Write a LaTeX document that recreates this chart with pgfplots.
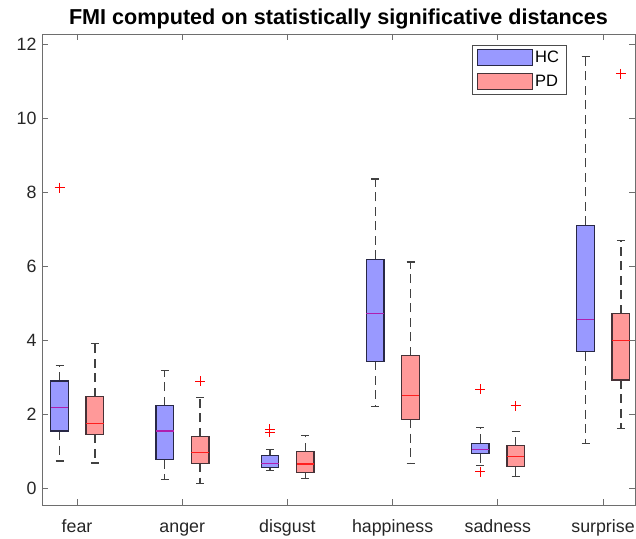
\documentclass[border=0pt]{standalone}
\usepackage{fontspec}
\setmainfont{Liberation Sans}
\usepackage{pgfplots}
\usepgfplotslibrary{statistics}
\pgfplotsset{compat=1.18}
\definecolor{hcfill}{RGB}{153,153,255}
\definecolor{pdfill}{RGB}{255,153,153}
\definecolor{hcmed}{RGB}{175,30,175}
\definecolor{pdmed}{RGB}{255,30,30}
\definecolor{edgeC}{RGB}{40,40,70}
\definecolor{pdedge}{RGB}{70,50,55}
\definecolor{axC}{RGB}{110,110,110}
\definecolor{whC}{RGB}{65,65,65}
\definecolor{outC}{RGB}{255,0,0}
\pgfplotsset{
  common/.style={color=outC, mark=+, mark size=5pt, mark options={solid, draw=outC, line width=1pt},
    boxplot/draw direction=y,
    boxplot/box extend=0.167, boxplot/whisker extend=0.076,
    boxplot/every whisker/.style={draw=whC, dash pattern=on 9pt off 5.5pt, line width=1.3pt}},
  hc/.style={common,
    boxplot/every box/.style={draw=edgeC, fill=hcfill, line width=1.3pt},
    boxplot/every median/.style={draw=hcmed, line width=1.2pt}},
  pd/.style={common,
    boxplot/every box/.style={draw=pdedge, fill=pdfill, line width=1.3pt},
    boxplot/every median/.style={draw=pdmed, line width=1.2pt}},
}
\begin{document}
\begin{tikzpicture}[x=1pt,y=1pt]
\begin{axis}[
  at={(42pt,33pt)}, anchor=south west,
  scale only axis, width=593pt, height=471pt,
  xmin=0.667, xmax=6.304, ymin=-0.459, ymax=12.27,
  xtick={1,2,3,4,5,6},
  xticklabels={fear,anger,disgust,happiness,sadness,surprise},
  ytick={0,2,4,6,8,10,12},
  tick align=inside, major tick length=6pt,
  axis line style={axC, line width=0.9pt},
  tick style={axC, line width=0.9pt},
  tick label style={font=\fontsize{17.8pt}{19pt}\selectfont, black!85},
  /pgf/number format/assume math mode=true,
  xticklabel style={anchor=base, yshift=-27pt},
  yticklabel style={xshift=-2pt},
  title={\bfseries\fontsize{21.6pt}{23pt}\selectfont FMI computed on statistically significative distances},
  title style={yshift=-5pt},
  legend style={at={(0.7246,0.977)}, anchor=north west, draw=black!70, line width=0.9pt,
    font=\fontsize{16.5pt}{18pt}\selectfont, inner xsep=5pt, inner ysep=4pt, row sep=7pt},
  legend cell align=left,
]
% fear
\addplot[hc, forget plot, boxplot prepared={draw position=0.834, lower whisker=0.73, lower quartile=1.54, median=2.17, upper quartile=2.89, upper whisker=3.32}] table[row sep=\\, y index=0]{d\\ 8.12\\};
\addplot[pd, forget plot, boxplot prepared={draw position=1.17, lower whisker=0.68, lower quartile=1.45, median=1.75, upper quartile=2.47, upper whisker=3.91}] coordinates {};
% anger
\addplot[hc, forget plot, boxplot prepared={draw position=1.834, lower whisker=0.23, lower quartile=0.77, median=1.54, upper quartile=2.23, upper whisker=3.17}] coordinates {};
\addplot[pd, forget plot, boxplot prepared={draw position=2.17, lower whisker=0.12, lower quartile=0.67, median=0.95, upper quartile=1.39, upper whisker=2.44}] table[row sep=\\, y index=0]{d\\ 2.89\\};
% disgust
\addplot[hc, forget plot, boxplot prepared={draw position=2.834, lower whisker=0.47, lower quartile=0.56, median=0.67, upper quartile=0.88, upper whisker=1.04}] table[row sep=\\, y index=0]{d\\ 1.59\\ 1.51\\};
\addplot[pd, forget plot, boxplot prepared={draw position=3.17, lower whisker=0.25, lower quartile=0.42, median=0.65, upper quartile=0.98, upper whisker=1.41}] coordinates {};
% happiness
\addplot[hc, forget plot, boxplot prepared={draw position=3.834, lower whisker=2.21, lower quartile=3.42, median=4.72, upper quartile=6.18, upper whisker=8.35}] coordinates {};
\addplot[pd, forget plot, boxplot prepared={draw position=4.17, lower whisker=0.67, lower quartile=1.86, median=2.51, upper quartile=3.58, upper whisker=6.11}] coordinates {};
% sadness
\addplot[hc, forget plot, boxplot prepared={draw position=4.834, lower whisker=0.61, lower quartile=0.93, median=1.05, upper quartile=1.21, upper whisker=1.64}] table[row sep=\\, y index=0]{d\\ 2.67\\ 0.44\\};
\addplot[pd, forget plot, boxplot prepared={draw position=5.17, lower whisker=0.32, lower quartile=0.58, median=0.86, upper quartile=1.14, upper whisker=1.52}] table[row sep=\\, y index=0]{d\\ 2.22\\};
% surprise
\addplot[hc, forget plot, boxplot prepared={draw position=5.834, lower whisker=1.20, lower quartile=3.68, median=4.55, upper quartile=7.10, upper whisker=11.66}] coordinates {};
\addplot[pd, forget plot, boxplot prepared={draw position=6.17, lower whisker=1.60, lower quartile=2.92, median=3.98, upper quartile=4.71, upper whisker=6.68}] table[row sep=\\, y index=0]{d\\ 11.19\\};
\addlegendimage{legend image code/.code={\draw[draw=edgeC, fill=hcfill, line width=1pt] (0pt,-8pt) rectangle (55pt,8pt);}}
\addlegendentry{HC}
\addlegendimage{legend image code/.code={\draw[draw=pdedge, fill=pdfill, line width=1pt] (0pt,-8pt) rectangle (55pt,8pt);}}
\addlegendentry{PD}
\end{axis}
\pgfresetboundingbox
\path[use as bounding box] (0pt,0pt) rectangle (636pt,538pt);
\end{tikzpicture}
\end{document}
